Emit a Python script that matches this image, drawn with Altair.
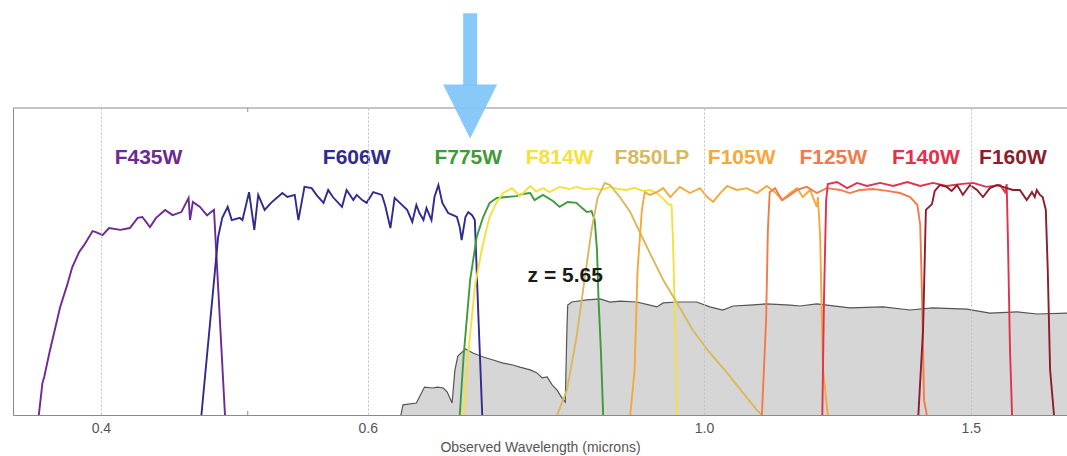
import altair as alt
import pandas as pd

# ---- bandpass throughput curves: wavelength (microns) and relative throughput ----
F435W_WL = [0.364, 0.366, 0.367, 0.370, 0.376, 0.380, 0.383, 0.387, 0.390, 0.395, 0.397,
            0.401, 0.405, 0.412, 0.418, 0.423, 0.426, 0.431, 0.435, 0.441, 0.446, 0.452,
            0.457, 0.458, 0.460, 0.465, 0.470, 0.472, 0.475, 0.483]
F435W_T = [0.0, 0.104, 0.124, 0.205, 0.352, 0.423, 0.482, 0.531, 0.554, 0.599, 0.596,
           0.586, 0.609, 0.603, 0.609, 0.642, 0.645, 0.612, 0.642, 0.668, 0.651, 0.661,
           0.707, 0.635, 0.694, 0.678, 0.650, 0.658, 0.668, 0.0]

F606W_WL = [0.466, 0.478, 0.481, 0.485, 0.488, 0.494, 0.496, 0.501, 0.505, 0.508, 0.513,
            0.518, 0.527, 0.531, 0.537, 0.540, 0.545, 0.551, 0.555, 0.561, 0.565, 0.569,
            0.577, 0.581, 0.587, 0.590, 0.595, 0.599, 0.605, 0.613, 0.616, 0.621, 0.625,
            0.630, 0.637, 0.642, 0.646, 0.649, 0.653, 0.656, 0.661, 0.664, 0.668, 0.672,
            0.678, 0.683, 0.687, 0.690, 0.692, 0.696, 0.699, 0.703, 0.706, 0.710, 0.714]
F606W_T = [0.0, 0.580, 0.642, 0.678, 0.635, 0.642, 0.635, 0.726, 0.603, 0.717, 0.668,
           0.691, 0.723, 0.710, 0.717, 0.635, 0.743, 0.739, 0.717, 0.691, 0.733, 0.710,
           0.678, 0.733, 0.700, 0.717, 0.700, 0.691, 0.726, 0.717, 0.684, 0.609, 0.707,
           0.691, 0.668, 0.629, 0.684, 0.658, 0.635, 0.674, 0.635, 0.710, 0.749, 0.691,
           0.658, 0.651, 0.645, 0.612, 0.570, 0.645, 0.661, 0.651, 0.635, 0.309, 0.0]

F775W_WL = [0.690, 0.694, 0.701, 0.708, 0.715, 0.722, 0.730, 0.741, 0.752, 0.759, 0.768,
            0.773, 0.783, 0.795, 0.803, 0.813, 0.824, 0.831, 0.837, 0.843, 0.847, 0.850,
            0.852, 0.855, 0.858]
F775W_T = [0.0, 0.189, 0.440, 0.580, 0.645, 0.691, 0.707, 0.710, 0.713, 0.720, 0.723,
           0.700, 0.717, 0.697, 0.678, 0.694, 0.691, 0.674, 0.661, 0.664, 0.635, 0.537,
           0.375, 0.212, 0.0]

F814W_WL = [0.694, 0.699, 0.706, 0.714, 0.722, 0.730, 0.737, 0.747, 0.756, 0.768, 0.775,
            0.783, 0.791, 0.803, 0.815, 0.824, 0.835, 0.845, 0.856, 0.867, 0.878, 0.889,
            0.900, 0.911, 0.921, 0.931, 0.940, 0.947, 0.952, 0.954, 0.957, 0.960]
F814W_T = [0.0, 0.202, 0.417, 0.547, 0.645, 0.694, 0.723, 0.739, 0.713, 0.746, 0.728,
           0.739, 0.726, 0.743, 0.736, 0.743, 0.735, 0.739, 0.733, 0.743, 0.736, 0.733,
           0.740, 0.730, 0.733, 0.723, 0.704, 0.687, 0.684, 0.570, 0.309, 0.0]

F850LP_WL = [0.800, 0.812, 0.824, 0.834, 0.843, 0.851, 0.860, 0.867, 0.880, 0.894, 0.907,
             0.921, 0.940, 0.960, 0.983, 1.009, 1.036, 1.061, 1.084, 1.092]
F850LP_T = [0.0, 0.081, 0.254, 0.440, 0.603, 0.710, 0.756, 0.749, 0.710, 0.661, 0.596,
            0.528, 0.440, 0.365, 0.277, 0.202, 0.137, 0.072, 0.016, 0.0]

F105W_WL = [0.894, 0.900, 0.904, 0.910, 0.914, 0.921, 0.931, 0.940, 0.950, 0.964, 0.979,
            0.994, 1.005, 1.014, 1.025, 1.036, 1.051, 1.067, 1.084, 1.100, 1.114, 1.126,
            1.140, 1.152, 1.162, 1.175, 1.187, 1.189, 1.193, 1.198, 1.207]
F105W_T = [0.0, 0.147, 0.472, 0.668, 0.726, 0.717, 0.726, 0.739, 0.710, 0.743, 0.723,
           0.739, 0.710, 0.694, 0.723, 0.746, 0.733, 0.739, 0.723, 0.746, 0.726, 0.700,
           0.723, 0.739, 0.710, 0.733, 0.678, 0.710, 0.586, 0.153, 0.0]

F125W_WL = [1.092, 1.099, 1.102, 1.105, 1.114, 1.126, 1.140, 1.152, 1.169, 1.187, 1.205,
            1.230, 1.248, 1.267, 1.293, 1.321, 1.347, 1.368, 1.383, 1.389, 1.393, 1.397,
            1.403]
F125W_T = [0.0, 0.309, 0.603, 0.726, 0.739, 0.700, 0.717, 0.733, 0.743, 0.723, 0.739,
           0.733, 0.723, 0.733, 0.736, 0.730, 0.723, 0.710, 0.684, 0.619, 0.375, 0.049,
           0.0]

F140W_WL = [1.197, 1.200, 1.204, 1.207, 1.224, 1.243, 1.262, 1.281, 1.307, 1.333, 1.362,
            1.389, 1.416, 1.446, 1.476, 1.505, 1.536, 1.568, 1.580, 1.584, 1.587, 1.592,
            1.597]
F140W_T = [0.0, 0.375, 0.700, 0.752, 0.759, 0.739, 0.756, 0.746, 0.756, 0.746, 0.759,
           0.746, 0.756, 0.746, 0.752, 0.756, 0.743, 0.749, 0.726, 0.752, 0.570, 0.212,
           0.0]

F160W_WL = [1.385, 1.395, 1.401, 1.414, 1.420, 1.431, 1.446, 1.457, 1.469, 1.482, 1.498,
            1.514, 1.528, 1.544, 1.561, 1.575, 1.599, 1.616, 1.633, 1.646, 1.653, 1.658,
            1.666, 1.673, 1.681, 1.686, 1.692, 1.702]
F160W_T = [0.0, 0.277, 0.668, 0.687, 0.730, 0.749, 0.743, 0.730, 0.749, 0.717, 0.749,
           0.733, 0.710, 0.739, 0.749, 0.743, 0.733, 0.733, 0.700, 0.726, 0.710, 0.733,
           0.717, 0.710, 0.668, 0.472, 0.147, 0.0]

# ---- model galaxy spectrum at z = 5.65 (relative flux) ----
SPEC_WL = [0.631, 0.633, 0.646, 0.654, 0.662, 0.667, 0.673, 0.677, 0.682, 0.685, 0.688,
           0.696, 0.704, 0.715, 0.726, 0.737, 0.748, 0.756, 0.768, 0.776, 0.782, 0.788,
           0.794, 0.800, 0.806, 0.810, 0.812, 0.813, 0.818, 0.837, 0.854, 0.867, 0.880,
           0.903, 0.921, 0.931, 0.940, 0.960, 0.989, 1.009, 1.029, 1.045, 1.072, 1.100,
           1.140, 1.157, 1.187, 1.248, 1.313, 1.368, 1.416, 1.491, 1.544, 1.609, 1.659,
           1.736, 1.760]
SPEC_F = [0.0, 0.033, 0.039, 0.091, 0.088, 0.091, 0.088, 0.075, 0.039, 0.147, 0.192,
          0.215, 0.202, 0.189, 0.179, 0.169, 0.163, 0.156, 0.147, 0.137, 0.121, 0.124,
          0.098, 0.081, 0.055, 0.042, 0.277, 0.358, 0.368, 0.375, 0.378, 0.368, 0.371,
          0.368, 0.358, 0.352, 0.365, 0.368, 0.368, 0.352, 0.342, 0.355, 0.358, 0.362,
          0.358, 0.355, 0.362, 0.349, 0.352, 0.342, 0.349, 0.345, 0.332, 0.336, 0.329,
          0.332, 0.332]

# ---- filter names, colours and label anchors (wavelength of label centre) ----
FILTERS = ["F435W", "F606W", "F775W", "F814W", "F850LP", "F105W", "F125W", "F140W", "F160W"]
COLORS = ["#6c2a94", "#2f2b8f", "#3f9b37", "#f4e13c", "#d8b95c", "#f5a83c", "#f27b4a",
          "#e3314b", "#8b1d2d"]
LABEL_WL = [0.430, 0.590, 0.699, 0.803, 0.924, 1.059, 1.217, 1.401, 1.599]
LABEL_T = 0.818

CURVES = [(F435W_WL, F435W_T), (F606W_WL, F606W_T), (F775W_WL, F775W_T),
          (F814W_WL, F814W_T), (F850LP_WL, F850LP_T), (F105W_WL, F105W_T),
          (F125W_WL, F125W_T), (F140W_WL, F140W_T), (F160W_WL, F160W_T)]

# redshift annotation
Z_TEXT = "z = 5.65"
Z_WL, Z_T = 0.810, 0.433

# arrow marking the band of interest
ARROW_WL = 0.701
ARROW_TOP, ARROW_NECK, ARROW_HEAD_MID = 1.309, 1.072, 0.9886

FONT = "Liberation Sans"

rows = []
for name, color, (wl, t) in zip(FILTERS, COLORS, CURVES):
    for i, (w, v) in enumerate(zip(wl, t)):
        rows.append({"filter": name, "color": color, "wl": w, "t": v, "i": i})
curves = pd.DataFrame(rows)
spec = pd.DataFrame({"wl": SPEC_WL, "t": SPEC_F})
labels = pd.DataFrame({"filter": FILTERS, "color": COLORS, "wl": LABEL_WL,
                       "t": [LABEL_T] * len(FILTERS)})

xs = alt.Scale(type="log", domain=[0.350, 1.736], nice=False)
ys = alt.Scale(domain=[0, 1], nice=False, zero=False)

x_axis = alt.Axis(values=[0.4, 0.6, 1.0, 1.5], format=".1f", ticks=False, tickSize=0,
                  labelPadding=6, labelFontSize=14, labelColor="#555", labelFont=FONT,
                  grid=True, gridDash=[2, 2], gridColor="#c2c2c2", domainColor="#8a8a8a",
                  titleFontSize=14, titleFontWeight="normal", titleColor="#555",
                  titleFont=FONT, titlePadding=5, zindex=1)
y_axis = alt.Axis(labels=False, ticks=False, grid=False, domainColor="#8a8a8a",
                  title=None, zindex=1)


def X(field):
    return alt.X(field, type="quantitative", scale=xs, axis=x_axis,
                 title="Observed Wavelength (microns)")


def Y(field):
    return alt.Y(field, type="quantitative", scale=ys, axis=y_axis)


spectrum = alt.Chart(spec).mark_area(
    color="#d6d6d6", opacity=1, clip=True,
    line={"color": "#555555", "strokeWidth": 1.2}
).encode(x=X("wl"), y=Y("t"))

lines = alt.Chart(curves).mark_line(strokeWidth=1.9, clip=True).encode(
    x=X("wl"), y=Y("t"), color=alt.Color("color:N", scale=None),
    detail="filter:N", order="i:Q")

names = alt.Chart(labels).mark_text(
    fontSize=21, fontWeight="bold", font=FONT, baseline="alphabetic", align="center"
).encode(x=X("wl"), y=Y("t"), text="filter:N", color=alt.Color("color:N", scale=None))

ztext = alt.Chart(pd.DataFrame({"wl": [Z_WL], "t": [Z_T], "s": [Z_TEXT]})).mark_text(
    fontSize=21, fontWeight="bold", font=FONT, baseline="alphabetic", align="center",
    color="#1a1a1a"
).encode(x=X("wl"), y=Y("t"), text="s:N")

# frame top edge and minor ticks at 0.5 micron
top_edge = alt.Chart(pd.DataFrame({"t": [1.0]})).mark_rule(
    color="#8a8a8a", strokeWidth=1).encode(y=Y("t"))
minor = alt.Chart(pd.DataFrame({"wl": [0.5, 0.5], "t": [0.0, 0.987],
                                "t2": [0.013, 1.0]})).mark_rule(
    color="#8a8a8a", strokeWidth=1).encode(x=X("wl"), y=Y("t"), y2="t2")

arrow_df = pd.DataFrame({"wl": [ARROW_WL], "t": [ARROW_TOP], "t2": [ARROW_NECK],
                         "mid": [ARROW_HEAD_MID]})
shaft = alt.Chart(arrow_df).mark_rule(
    color="#7ec4fa", strokeWidth=14, opacity=0.92).encode(x=X("wl"), y=Y("t"), y2="t2")
head = alt.Chart(arrow_df).mark_point(
    shape="M-1,-1L1,-1L0,1Z", size=2916, filled=True, color="#7ec4fa",
    opacity=0.92, strokeWidth=0).encode(x=X("wl"), y=Y("mid"))

chart = alt.layer(
    spectrum, top_edge, minor, lines, names, ztext, shaft, head
).properties(
    width=1054, height=307,
    padding={"left": 13, "top": 108, "right": 0, "bottom": 41},
    autosize=alt.AutoSizeParams(type="none"),
    background="white",
).configure_view(stroke=None)

chart.save("out.html", embed_options={"renderer": "svg", "actions": False})
